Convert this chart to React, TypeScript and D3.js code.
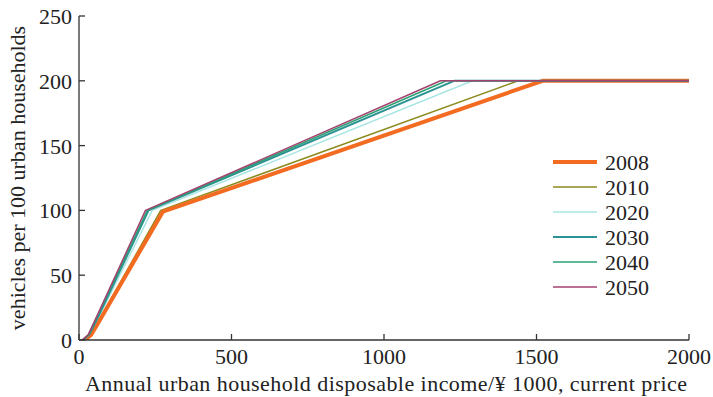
import React from 'react';
import * as d3 from 'd3';

// chart data: break points of each scenario (income in ¥1000, vehicles per 100 households)
const years = ['2008', '2010', '2020', '2030', '2040', '2050'];
const incomeX: number[][] = [
  [20, 40, 60, 275, 1520, 2000],
  [18, 38, 58, 268, 1440, 2000],
  [15, 35, 55, 240, 1290, 2000],
  [13, 33, 53, 228, 1230, 2000],
  [11, 31, 51, 224, 1205, 2000],
  [10, 30, 50, 218, 1185, 2000],
];
const vehiclesY: number[][] = [
  [0, 4, 12, 99, 200, 200],
  [0, 4, 12, 100, 200, 200],
  [0, 4, 13, 100, 200, 200],
  [0, 4, 13, 100, 200, 200],
  [0, 4, 14, 100, 200, 200],
  [0, 4, 14, 100, 200, 200],
];
const xTicks = [0, 500, 1000, 1500, 2000];
const yTicks = [0, 50, 100, 150, 200, 250];

const COLORS = ['#f26b21', '#8b8a1c', '#a8e6e2', '#2b9393', '#2aa073', '#a3426f'];
const WIDTHS = [4, 1.5, 1.5, 2, 1.5, 1.5];
const FONT = '"Liberation Serif", "DejaVu Serif", serif';

export default function App() {
  const W = 713, H = 397;
  const m = { left: 79, right: 24, top: 16, bottom: 57 };
  const x = d3.scaleLinear().domain([0, 2000]).range([m.left, W - m.right]);
  const y = d3.scaleLinear().domain([0, 250]).range([H - m.bottom, m.top]);
  const line = d3.line<[number, number]>().x(d => x(d[0])).y(d => y(d[1]));
  const axisColor = '#333';

  // thin lines first, thick 2008 above the olive one
  const order = [1, 2, 0, 3, 4, 5];

  return (
    <svg width={W} height={H} style={{ position: 'absolute', left: 0, top: 0, background: '#fff' }}
      fontFamily={FONT}>
      <clipPath id="c"><rect x={m.left} y={m.top - 5} width={W - m.left - m.right + 3} height={H - m.top - m.bottom + 5} /></clipPath>
      <g clipPath="url(#c)">
        {order.map(i => {
          const pts = incomeX[i].map((v, j) => [v, vehiclesY[i][j]] as [number, number]);
          return <path key={years[i]} d={line(pts) || ''} fill="none" stroke={COLORS[i]}
            strokeWidth={WIDTHS[i]} strokeLinejoin="round" />;
        })}
      </g>
      {/* axes */}
      <line x1={x(0)} x2={x(2000)} y1={y(0)} y2={y(0)} stroke={axisColor} strokeWidth={1.3} />
      <line x1={x(0)} x2={x(0)} y1={y(0)} y2={y(250)} stroke={axisColor} strokeWidth={1.3} />
      {xTicks.map(t => (
        <g key={'x' + t}>
          <line x1={x(t)} x2={x(t)} y1={y(0)} y2={y(0) - 6} stroke={axisColor} strokeWidth={1.3} />
          <text x={x(t)} y={y(0) + 24} textAnchor="middle" fontSize={22} fill="#222">{t}</text>
        </g>
      ))}
      {yTicks.map(t => (
        <g key={'y' + t}>
          <line x1={x(0)} x2={x(0) + 6} y1={y(t)} y2={y(t)} stroke={axisColor} strokeWidth={1.3} />
          <text x={x(0) - 7} y={y(t) + 8} textAnchor="end" fontSize={22} fill="#222">{t}</text>
        </g>
      ))}
      <text x={(x(0) + x(2000)) / 2 + 2} y={391} textAnchor="middle" fontSize={22} fill="#222"
        textLength={602} lengthAdjust="spacing">
        Annual urban household disposable income/¥ 1000, current price
      </text>
      <text transform={`translate(25,${(y(0) + y(250)) / 2}) rotate(-90)`} textAnchor="middle"
        fontSize={22} fill="#222">vehicles per 100 urban households</text>
      {/* legend */}
      {years.map((yr, i) => (
        <g key={'l' + yr} transform={`translate(553,${162 + i * 25})`}>
          <line x1={0} x2={44} y1={0} y2={0} stroke={COLORS[i]} strokeWidth={i === 0 ? 4 : i === 3 ? 2 : 1.5} />
          <text x={52} y={7.5} fontSize={22} fill="#222">{yr}</text>
        </g>
      ))}
    </svg>
  );
}
